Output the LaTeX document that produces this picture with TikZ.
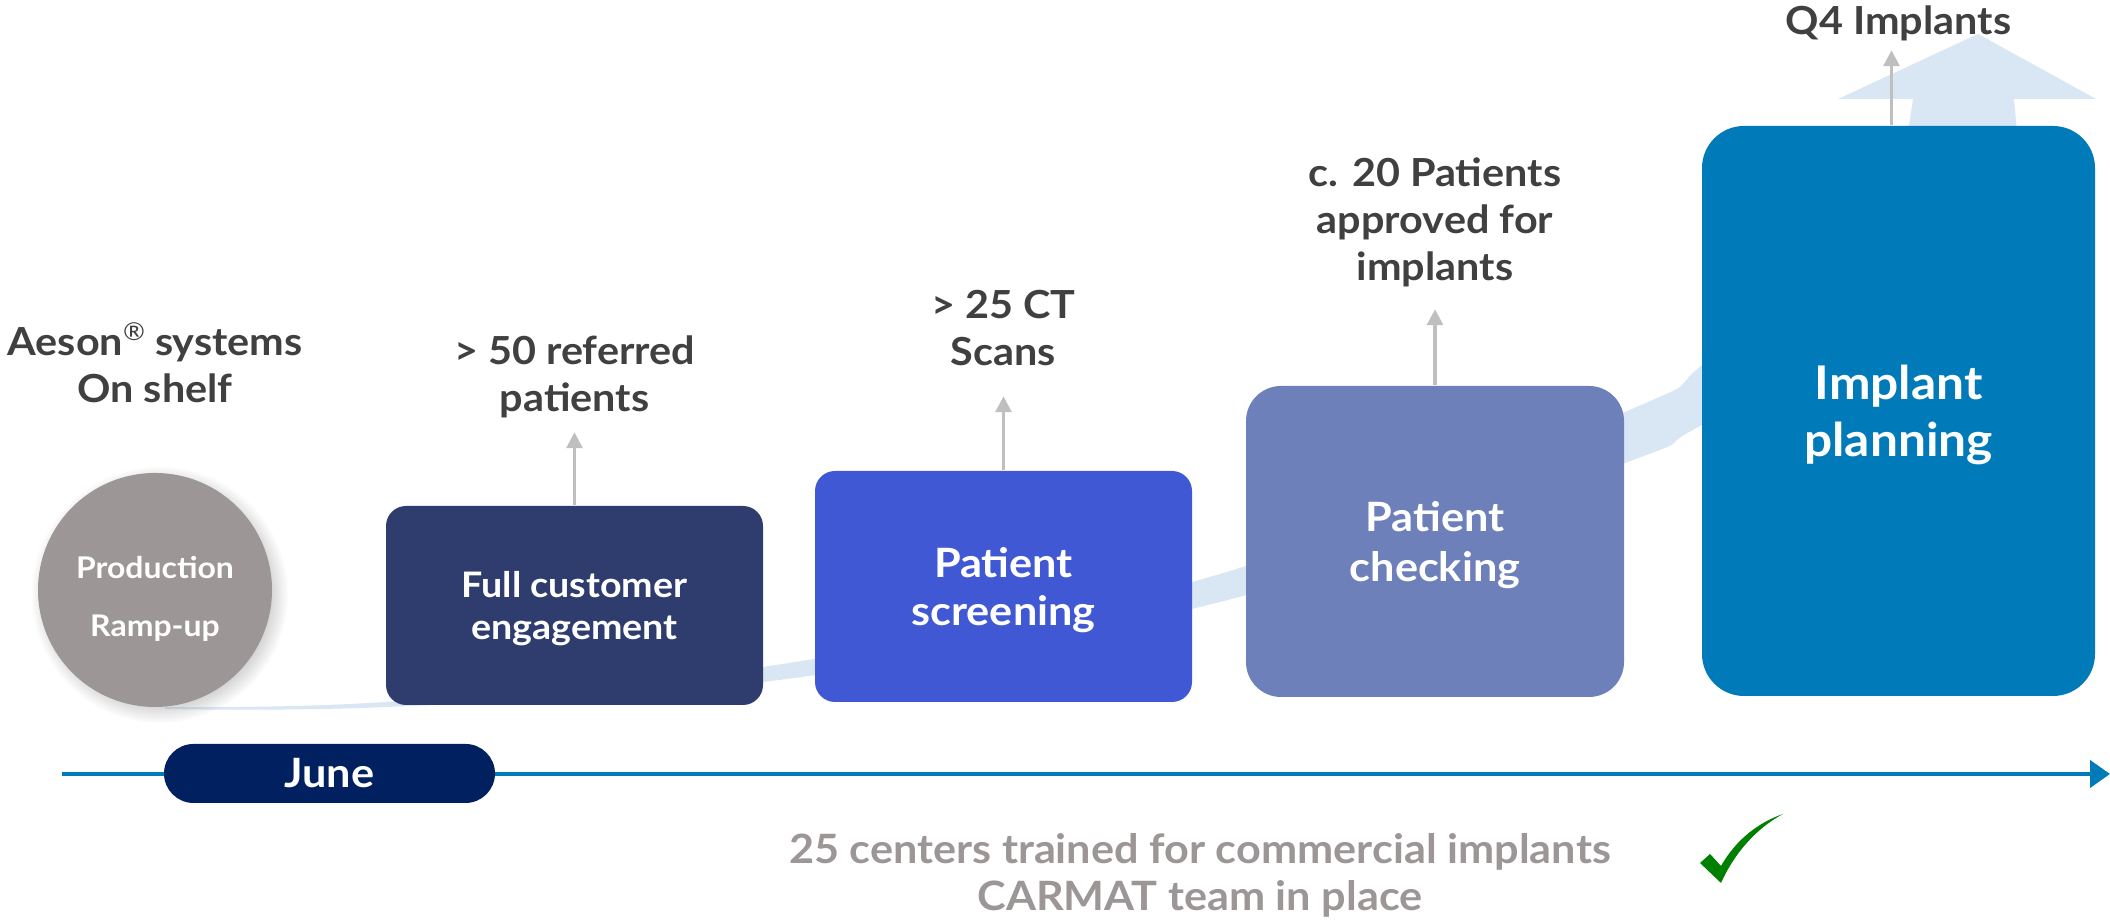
\documentclass[tikz,border=0pt]{standalone}
\usepackage{fontspec}
\setmainfont{Lato}[FakeStretch=1.07]
\usetikzlibrary{arrows.meta,positioning,shadows}

\definecolor{navy}{RGB}{46,61,110}
\definecolor{royal}{RGB}{64,88,211}
\definecolor{lavender}{RGB}{109,128,186}
\definecolor{ocean}{RGB}{0,122,185}
\definecolor{midnight}{RGB}{0,32,96}
\definecolor{stone}{RGB}{156,150,150}
\definecolor{swoosh}{RGB}{217,230,244}
\definecolor{ink}{RGB}{64,64,64}
\definecolor{pointer}{RGB}{191,191,191}
\definecolor{tick}{RGB}{0,128,0}

\begin{document}
\begin{tikzpicture}[
		stage box/.style={
			align=center,
			text=white,
			text depth=0pt,
			inner sep=0pt
		},
		above label/.style={
			align=center,
			text=ink,
			inner sep=0pt,
			font=\bfseries\fontsize{11}{13.3}\selectfont
		},
		up/.style={
			draw=pointer,
			line width=0.9pt,
			-{Triangle[width=4.5pt,length=4.5pt]}
		},
		timeline/.style={
			draw=ocean,
			line width=1.2pt,
			-{Triangle[width=0.27cm,length=0.2cm]}
		}
	]
	\useasboundingbox (0,0) rectangle (21.1,9.22);

	% rising band behind the stages, ending in a wide arrow
	\fill[swoosh] plot[smooth, tension=0.6] coordinates {(1.65,2.15) (3.86,2.20) (7.63,2.55) (12.2,3.48) (16.25,5.10) (17.02,5.57) (18.4,6.9) (19.08,7.9)}
		-- (19.13,8.23) -- (18.38,8.23) -- (19.78,8.88) -- (20.96,8.23) -- (20.14,8.23) -- (20.17,7.9)
		-- plot[smooth, tension=0.6] coordinates {(20.17,7.9) (19.5,6.3) (17.02,4.97) (16.25,4.59) (12.2,3.2) (7.63,2.40) (3.86,2.15) (1.65,2.13)}
		-- cycle;

	% time axis
	\coordinate (t0) at (0.62,1.48);
	\coordinate (t1) at (21.1,1.48);
	\draw[timeline] (t0) -- (t1);

	\node[rounded corners=0.295cm, fill=midnight, minimum width=3.31cm, minimum height=0.59cm,
		text=white, font=\bfseries\fontsize{11.5}{13}\selectfont] (june) at (3.295,1.485) {June};

	% stages
	\node[circle, fill=stone, minimum size=2.34cm, stage box,
		circular drop shadow={shadow xshift=0.04cm, shadow yshift=-0.04cm, opacity=0.35},
		label={[text=white, align=center, yshift=-0.09cm, font=\bfseries\fontsize{8.5}{16.5}\selectfont]center:{Production\\Ramp-up}}]
		(prod) at (1.55,3.32) {};

	\node[stage box, fill=navy, rounded corners=0.2cm, minimum width=3.77cm, minimum height=1.99cm,
		font=\bfseries\fontsize{10}{11.9}\selectfont] (engage) at (5.745,3.165) {Full customer\\engagement};

	\node[stage box, fill=royal, rounded corners=0.2cm, minimum width=3.77cm, minimum height=2.31cm,
		font=\bfseries\fontsize{11.5}{13.8}\selectfont] (screen) at (10.035,3.355) {Patient\\screening};

	\node[stage box, fill=lavender, rounded corners=0.35cm, minimum width=3.78cm, minimum height=3.11cm,
		font=\bfseries\fontsize{11.5}{14.2}\selectfont] (check) at (14.35,3.805) {Patient\\checking};

	\node[stage box, fill=ocean, rounded corners=0.42cm, minimum width=3.93cm, minimum height=5.70cm,
		font=\bfseries\fontsize{13.2}{16.1}\selectfont] (plan) at (18.985,5.11) {Implant\\planning};

	% milestones above the stages
	\node[above label, above=0.69cm of prod] (lbl-prod)
		{Aeson\raisebox{0.75ex}{\mdseries\fontsize{7}{7}\selectfont ®} systems\\On shelf};
	\node[above label, above=0.87cm of engage] (lbl-engage) {> 50 referred\\patients};
	\node[above label, above=1.04cm of screen] (lbl-screen) {> 25 CT\\Scans};
	\node[above label, above=0.98cm of check] (lbl-check) {c. 20 Patients\\approved for\\implants};
	\node[above label, above=0.84cm of plan] (lbl-plan) {Q4 Implants};

	\draw[up, shorten >=0.14cm] (engage) -- (lbl-engage);
	\draw[up, shorten >=0.30cm] (screen) -- (lbl-screen);
	\draw[up, shorten >=0.22cm] (check) -- (lbl-check);
	\draw[up, shorten >=0.09cm] ([xshift=-0.07cm]plan.north) -- ([xshift=-0.07cm]lbl-plan.south);

	% footnote and tick
	\node[align=center, text=stone, inner sep=0pt, font=\bfseries\fontsize{11.5}{13.3}\selectfont]
		(trained) at (12.0,0.465) {25 centers trained for commercial implants\\CARMAT team in place};

	\fill[tick] (17.00,0.59) -- (17.10,0.68) -- (17.21,0.56)
		.. controls (17.37,0.84) and (17.60,1.00) .. (17.83,1.08)
		.. controls (17.57,0.94) and (17.35,0.70) .. (17.21,0.39) -- cycle;
\end{tikzpicture}
\end{document}
